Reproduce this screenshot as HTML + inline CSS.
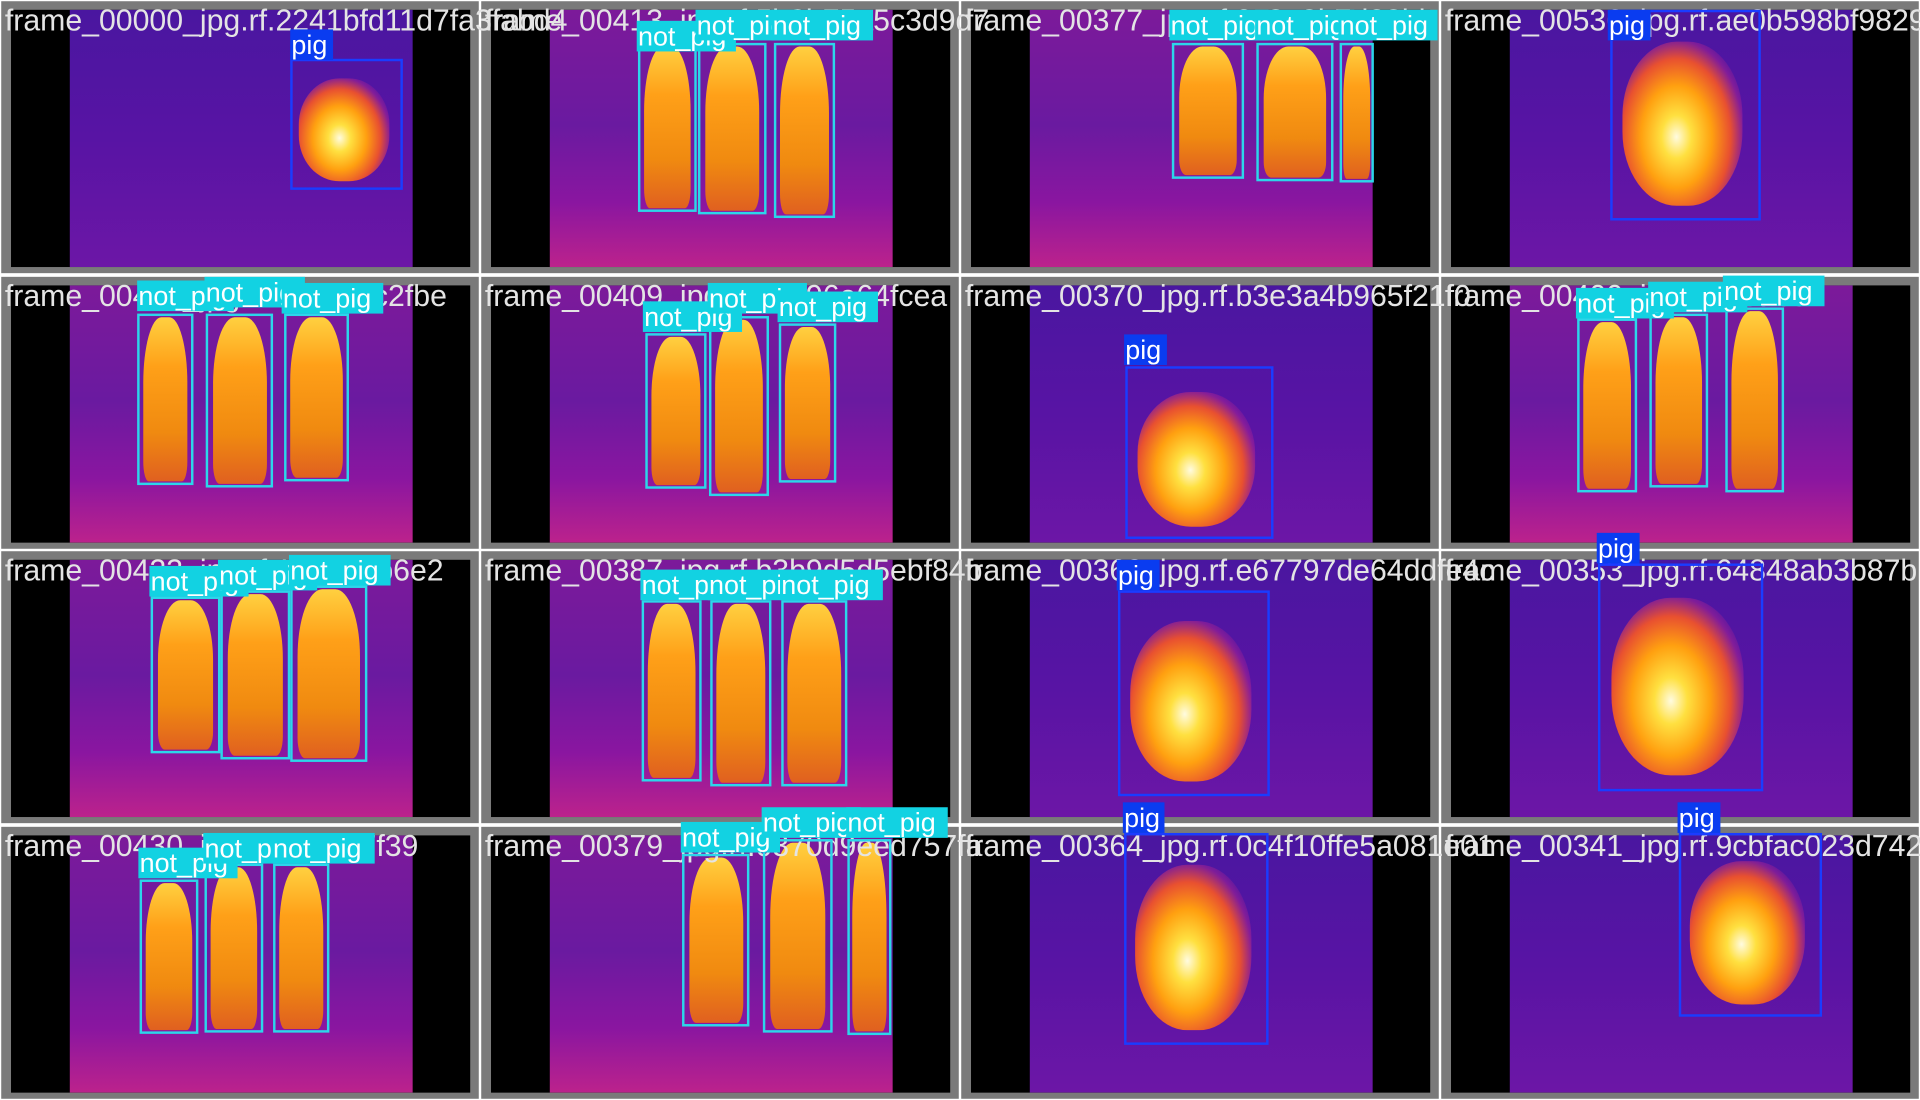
<!DOCTYPE html>
<html><head><meta charset="utf-8">
<style>
html,body{margin:0;padding:0;background:#fff;width:1920px;height:1100px;overflow:hidden}
#stage{position:absolute;left:0;top:0;width:1568px;height:898px;transform-origin:0 0;transform:scale(1.22449,1.22494);background:#fff}
.tile{position:absolute;width:390px;height:222px;background:#7a7a7a;overflow:visible}
.inner{position:absolute;left:8px;top:7px;width:375px;height:210px;background:#000;overflow:hidden}
.img{position:absolute;left:48px;top:0;width:280px;height:210px}
.title{position:absolute;font-family:"Liberation Sans",sans-serif;font-size:24.7px;color:#e4e4e4;white-space:nowrap;line-height:25px;z-index:5}
.box{position:absolute;box-sizing:border-box;border:2px solid;z-index:6}
.lbl{position:absolute;font-family:"Liberation Sans",sans-serif;font-size:22px;color:#fff;line-height:25px;padding-left:1px;white-space:nowrap;overflow:hidden;z-index:7}
.blob{position:absolute;z-index:3}
</style></head><body>
<div id="stage"></div>
<script>
const titles=["frame_00000_jpg.rf.2241bfd11d7fa3fabd4","frame_00413_jpg.rf.5b3b75a5c3d9d7","frame_00377_jpg.rf.0c3a8b7d28bb","frame_00536_jpg.rf.ae0b598bf9829",
"frame_00405_jpg.rf.43cac6c2fbe","frame_00409_jpg.rf.93e96e64fcea","frame_00370_jpg.rf.b3e3a4b965f21f0","frame_00400_jpg.rf.f6eab52",
"frame_00423_jpg.rf.185a91b6e2","frame_00387_jpg.rf.b3b9d5d5ebf84b","frame_00369_jpg.rf.e67797de64ddfe4c","frame_00353_jpg.rf.64848ab3b87b",
"frame_00430_jpg.rf.94f4af7f39","frame_00379_jpg.rf.0370d9eed757fa","frame_00364_jpg.rf.0c4f10ffe5a081e01","frame_00341_jpg.rf.9cbfac023d742"];
const kinds=["pig","person","person","pig","person","person","pig","person","person","person","pig","pig","person","person","pig","pig"];
const boxes=[
[[237,48,329,155,237,24,34,"pig"]],
[[521,35,569,173,520,17,80,"not_pig"],[570,35,626,175,568,8,82,"not_pig"],[632,35,682,178,630,8,82,"not_pig"]],
[[957,35,1016,146,955,8,80,"not_pig"],[1026,35,1089,148,1025,8,80,"not_pig"],[1094,35,1122,149,1093,8,80,"not_pig"]],
[[1315,8,1438,180,1313,8,34,"pig"]],
[[112,256,158,396,112,229,78,"not_pig"],[168,256,223,398,167,226,81,"not_pig"],[232,256,285,393,230,231,82,"not_pig"]],
[[527,272,577,399,525,246,80,"not_pig"],[579,258,628,405,578,231,80,"not_pig"],[636,264,683,394,635,238,81,"not_pig"]],
[[919,299,1040,440,918,273,34,"pig"]],
[[1288,260,1337,402,1287,235,79,"not_pig"],[1347,256,1395,398,1346,230,80,"not_pig"],[1409,251,1457,402,1407,225,82,"not_pig"]],
[[123,487,180,615,122,462,80,"not_pig"],[180,482,237,620,178,457,80,"not_pig"],[237,478,300,622,236,453,82,"not_pig"]],
[[524,490,573,638,523,465,80,"not_pig"],[580,490,630,642,578,465,80,"not_pig"],[638,490,692,642,637,465,83,"not_pig"]],
[[913,482,1037,650,912,457,34,"pig"]],
[[1305,460,1440,646,1304,435,34,"pig"]],
[[114,718,162,844,113,692,80,"not_pig"],[167,705,215,843,166,680,80,"not_pig"],[223,705,269,843,222,680,83,"not_pig"]],
[[557,697,612,838,556,671,80,"not_pig"],[623,685,680,843,622,659,80,"not_pig"],[692,685,728,845,691,659,82,"not_pig"]],
[[918,680,1036,853,917,655,33,"pig"]],
[[1371,680,1488,830,1370,655,34,"pig"]]
];
const stage=document.getElementById('stage');
const colX=[0,392,784,1176], rowY=[0,224.5,449,673.5];
for(let i=0;i<16;i++){
  const c=i%4,r=Math.floor(i/4),x0=colX[c],y0=rowY[r];
  const t=document.createElement('div');t.className='tile';
  
  
  t.style.left=(x0+1)+'px';t.style.top=(y0+1)+'px';
  const inner=document.createElement('div');inner.className='inner';
  
  
  const img=document.createElement('div');img.className='img';
  
  
  if(kinds[i]=="pig") img.style.background='linear-gradient(180deg,#4a16a0 0%,#5814a4 50%,#6c16a6 100%)';
  else img.style.background='linear-gradient(180deg,#7c1a9a 0%,#6a1aa0 45%,#8a16a0 75%,#bc228c 100%)';
  inner.appendChild(img);t.appendChild(inner);stage.appendChild(t);
  boxes[i].forEach(b=>{
    const bl=document.createElement('div');bl.className='blob';
    
    
    const w=b[2]-b[0],h=b[3]-b[1];
    if(b[7]=="pig"){
      bl.style.left=(b[0]+w*0.08)+'px';bl.style.top=(b[1]+h*0.15)+'px';
      bl.style.width=(w*0.8)+'px';bl.style.height=(h*0.78)+'px';
      bl.style.borderRadius='45%';
      bl.style.background='radial-gradient(ellipse at 45% 58%,#fffbe0 0%,#ffe040 16%,#ffa010 38%,#e85030 58%,rgba(200,40,140,0.4) 72%,rgba(200,40,140,0) 82%)';
    }else{
      bl.style.left=(b[0]+w*0.1)+'px';bl.style.top=(b[1]+3)+'px';
      bl.style.width=(w*0.8)+'px';bl.style.height=(h-6)+'px';
      bl.style.borderRadius='40% 40% 12% 12%';
      bl.style.background='linear-gradient(180deg,#ffd040 0%,#ffa018 30%,#f08a10 70%,#e06020 100%)';
    }
    stage.appendChild(bl);
  });
  const ti=document.createElement('div');ti.className='title';
  
  
  ti.textContent=titles[i];ti.style.left=(x0+4)+'px';ti.style.top=(y0+5)+'px';
  stage.appendChild(ti);
}
boxes.forEach(bs=>bs.forEach(b=>{
  const pig=b[7]=="pig";
  const bx=document.createElement('div');bx.className='box';
  
  
  bx.style.left=b[0]+'px';bx.style.top=b[1]+'px';
  bx.style.width=(b[2]-b[0])+'px';bx.style.height=(b[3]-b[1])+'px';
  bx.style.borderColor=pig?'#1a3cff':'#2cd6ea';
  stage.appendChild(bx);
  const lb=document.createElement('div');lb.className='lbl';
  
  
  lb.textContent=b[7];
  lb.style.left=b[4]+'px';lb.style.top=b[5]+'px';lb.style.width=b[6]+'px';
  lb.style.background=pig?'#0a3cf0':'#12d2e2';
  stage.appendChild(lb);
}));
</script>
</body></html>
